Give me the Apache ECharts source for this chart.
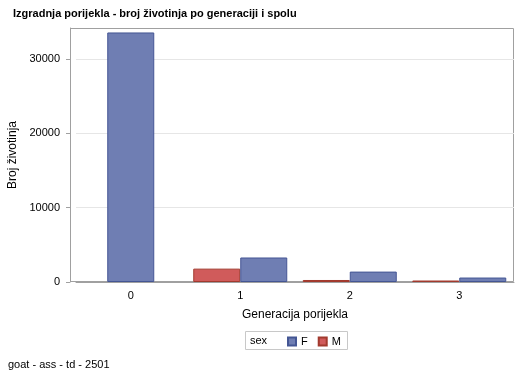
<!DOCTYPE html>
<html><head><meta charset="utf-8">
<script src="https://cdn.jsdelivr.net/npm/echarts@6/dist/echarts.min.js"></script>
<style>html,body{margin:0;padding:0;background:#fff}#c{width:529px;height:378px}</style>
</head><body><div id="c"></div>
<script>
var categories = ['0', '1', '2', '3'];
var femaleValues = [33600, 3300, 1400, 600];
var maleValues = [null, 1800, 270, 200];
var yTicks = [0, 10000, 20000, 30000];

var font = '"Liberation Sans", Arial, sans-serif';
var chart = echarts.init(document.getElementById('c'), null, {renderer: 'canvas'});
var fMain = femaleValues.map(function (v, i) { return maleValues[i] == null ? '-' : v; });
var fSolo = femaleValues.map(function (v, i) { return maleValues[i] == null ? v : '-'; });
var mMain = maleValues.map(function (v) { return v == null ? '-' : v; });

chart.setOption({
  animation: false,
  textStyle: {fontFamily: font},
  title: {
    text: 'Izgradnja porijekla - broj životinja po generaciji i spolu',
    left: 8, top: 3,
    textStyle: {fontSize: 11, fontWeight: 'bold', color: '#000', fontFamily: font}
  },
  grid: {left: 76, right: 15, top: 28, bottom: 96, containLabel: false, outerBoundsMode: 'none'},
  legend: {
    data: ['F', 'M'],
    left: 287, top: 336,
    icon: 'rect', itemWidth: 8, itemHeight: 8, itemGap: 10,
    padding: 0,
    textStyle: {fontSize: 11, color: '#000', fontFamily: font}
  },
  xAxis: [{
    type: 'category', data: categories,
    name: 'Generacija porijekla', nameLocation: 'middle', nameGap: 27,
    nameTextStyle: {fontSize: 12, color: '#000', fontFamily: font},
    axisLine: {lineStyle: {color: '#a0a0a0'}},
    axisTick: {alignWithLabel: true, length: 4, lineStyle: {color: '#a0a0a0'}},
    axisLabel: {fontSize: 11, color: '#000', margin: 8}
  }, {
    type: 'category', data: categories, show: false
  }],
  yAxis: {
    type: 'value', min: 0, max: 34200, interval: 10000, offset: 6,
    name: 'Broj životinja', nameLocation: 'middle', nameGap: 45, nameRotate: 90,
    nameTextStyle: {fontSize: 12, color: '#000', fontFamily: font},
    axisLine: {show: true, lineStyle: {color: '#a0a0a0'}},
    axisTick: {show: true, length: 4, lineStyle: {color: '#a0a0a0'}, customValues: yTicks},
    axisLabel: {fontSize: 11, color: '#000', margin: 10, customValues: yTicks,
      formatter: function (v) { return String(v); }},
    splitLine: {lineStyle: {color: '#e6e6e6'}}
  },
  graphic: [
    {type: 'rect', shape: {x: 70.5, y: 28.5, width: 443, height: 253},
     style: {fill: null, stroke: '#a0a0a0', lineWidth: 1}, silent: true, z: 0},
    {type: 'rect', shape: {x: 245.5, y: 331.5, width: 102, height: 18},
     style: {fill: null, stroke: '#c8c8c8', lineWidth: 1}, silent: true},
    {type: 'text', left: 250, top: 335,
     style: {text: 'sex', fontSize: 11, fill: '#000', fontFamily: font}},
    {type: 'text', left: 8, top: 359,
     style: {text: 'goat - ass - td - 2501', fontSize: 11, fill: '#000', fontFamily: font}}
  ],
  series: [
    {name: 'M', type: 'bar', xAxisIndex: 0, data: mMain, barWidth: 47, barGap: '0%',
     itemStyle: {color: '#D05B5B', borderColor: '#A23A2E', borderWidth: 1}},
    {name: 'F', type: 'bar', xAxisIndex: 0, data: fMain, barWidth: 47, barGap: '0%',
     itemStyle: {color: '#6F7EB3', borderColor: '#445694', borderWidth: 1}},
    {name: 'F', type: 'bar', xAxisIndex: 1, data: fSolo, barWidth: 47,
     itemStyle: {color: '#6F7EB3', borderColor: '#445694', borderWidth: 1}}
  ]
});
</script></body></html>
